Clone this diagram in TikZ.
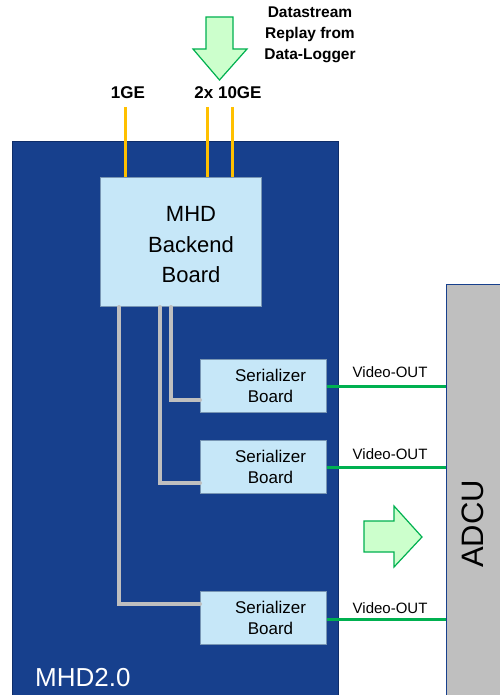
\documentclass[tikz,border=0pt]{standalone}
\usepackage{fontspec}
\setmainfont{Liberation Sans}
\definecolor{mhdblue}{RGB}{23,64,141}
\definecolor{mhdedge}{RGB}{14,45,105}
\definecolor{boardfill}{RGB}{198,231,248}
\definecolor{boardedge}{RGB}{120,150,180}
\definecolor{conngray}{RGB}{191,191,191}
\definecolor{geyellow}{RGB}{255,192,0}
\definecolor{vgreen}{RGB}{0,176,80}
\definecolor{arrowfill}{RGB}{204,255,204}
\definecolor{adcugray}{RGB}{191,191,191}
\tikzset{
  boardbox/.style={draw=boardedge, line width=1pt, fill=boardfill, anchor=north west, inner sep=0pt},
  serbox/.style={boardbox, minimum width=126pt, minimum height=53pt},
  sertext/.style={font=\fontsize{17}{21}\selectfont, align=center, text=black},
  geline/.style={draw=geyellow, line width=3pt},
  grayconn/.style={draw=conngray, line width=4pt, line cap=round},
  videoline/.style={draw=vgreen, line width=3pt},
  videolabel/.style={font=\fontsize{15}{18}\selectfont, inner sep=0pt, anchor=base},
  blockarrow/.style={draw=vgreen, line width=1.2pt, fill=arrowfill, line join=miter},
  toplabel/.style={font=\bfseries\fontsize{17}{20}\selectfont, inner sep=0pt, anchor=base},
}
\begin{document}
\begin{tikzpicture}[x=1pt,y=-1pt]
\useasboundingbox (0,0) rectangle (499,695);
% main MHD2.0 box
\node[draw=mhdedge, line width=1pt, fill=mhdblue, anchor=north west, minimum width=326pt, minimum height=570pt, inner sep=0pt] (mhd) at (12,141) {};
\node[text=white, font=\fontsize{26}{30}\selectfont, anchor=base west, inner sep=0pt] (mhdlabel) at (35,686) {MHD2.0};
% ADCU
\node[draw=mhdblue, line width=1pt, fill=adcugray, anchor=north west, minimum width=70pt, minimum height=430pt, inner sep=0pt] (adcu) at (446,284) {};
\node[rotate=90, font=\fontsize{31}{34}\selectfont, inner sep=0pt] (adcutext) at (473,524) {ADCU};
% Backend board
\node[boardbox, minimum width=161pt, minimum height=129pt, label={[sertext, font=\fontsize{22}{30.5}\selectfont, xshift=10pt, yshift=-3pt]center:MHD\\Backend\\Board}] (backend) at (100,177) {};
% Serializer boards
\node[serbox, label={[sertext, xshift=7pt]center:Serializer\\Board}] (ser1) at (200,359) {};
\node[serbox, label={[sertext, xshift=7pt]center:Serializer\\Board}] (ser2) at (200,440) {};
\node[serbox, label={[sertext, xshift=7pt]center:Serializer\\Board}] (ser3) at (200,591) {};
% gray connectors
\draw[grayconn] ([xshift=71pt]backend.south west) |- ([yshift=13pt]ser1.south west);
\draw[grayconn] ([xshift=60pt]backend.south west) |- ([yshift=11pt]ser2.south west);
\draw[grayconn] ([xshift=19pt]backend.south west) |- ([yshift=41pt]ser3.south west);
% GE links
\coordinate (ge1) at (125,107);
\coordinate (ge2) at (207,107);
\coordinate (ge3) at (232,107);
\draw[geline] (ge1) -- (ge1 |- backend.north);
\draw[geline] (ge2) -- (ge2 |- backend.north);
\draw[geline] (ge3) -- (ge3 |- backend.north);
\node[toplabel] (l1ge) at (128,99) {1GE};
\node[toplabel] (l10ge) at (228,99) {2x 10GE};
% Datastream arrow and text
\draw[blockarrow] (206,17) -- (233,17) -- (233,49) -- (247,49) -- (219.5,80) -- (193,49) -- (206,49) -- cycle;
\node[font=\bfseries\fontsize{15.5}{21}\selectfont, align=center, anchor=north, inner sep=0pt] (ds) at (310,7) {Datastream\\Replay from\\Data-Logger};
% Video out links
\coordinate (s3e) at ([yshift=-1pt]ser3.east);
\draw[videoline] (ser1.east) -- (adcu.west |- ser1.east) node[videolabel, pos=0.53, yshift=9pt] {Video-OUT};
\draw[videoline] (ser2.east) -- (adcu.west |- ser2.east) node[videolabel, pos=0.53, yshift=8pt] {Video-OUT};
\draw[videoline] (s3e) -- (adcu.west |- s3e) node[videolabel, pos=0.53, yshift=6pt] {Video-OUT};
% right block arrow
\draw[blockarrow] (364,521) -- (394,521) -- (394,506) -- (422,537) -- (394,567) -- (394,552) -- (364,552) -- cycle;
\end{tikzpicture}
\end{document}
